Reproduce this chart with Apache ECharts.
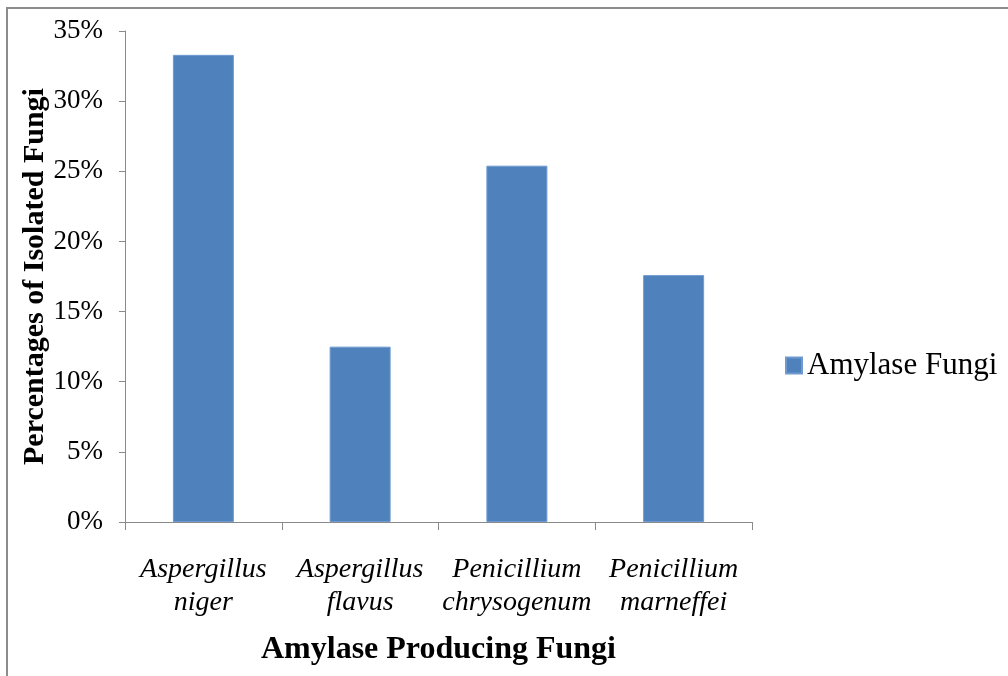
<!DOCTYPE html>
<html>
<head>
<meta charset="utf-8">
<script src="https://cdn.jsdelivr.net/npm/echarts@6/dist/echarts.min.js"></script>
<style>
  html, body { margin: 0; padding: 0; background: #fff; }
  #chart { width: 1008px; height: 676px; }
</style>
</head>
<body>
<div id="chart"></div>
<script>
// Fungal species isolated for amylase production
const categories = [
  'Aspergillus\nniger',
  'Aspergillus\nflavus',
  'Penicillium\nchrysogenum',
  'Penicillium\nmarneffei'
];
// Share of isolates, in percent
const amylaseFungi = [33.3, 12.5, 25.4, 17.6];
const seriesName = 'Amylase Fungi';
const yTicks = { min: 0, max: 35, interval: 5 };

const serif = '"Liberation Serif", "Times New Roman", serif';
const chart = echarts.init(document.getElementById('chart'));

chart.setOption({
  backgroundColor: '#ffffff',
  animation: false,
  textStyle: { fontFamily: serif, color: '#000' },
  graphic: [{
    type: 'rect',
    shape: { x: 7, y: 8, width: 1100, height: 800 },
    style: { fill: 'none', stroke: '#8c8c8c', lineWidth: 2 },
    silent: true
  }],
  grid: {
    left: 125, right: 256, top: 31, bottom: 154,
    containLabel: false,
    outerBoundsMode: 'none'
  },
  legend: {
    data: [seriesName],
    left: 785,
    top: 350,
    padding: 0,
    itemWidth: 16,
    itemHeight: 16,
    itemGap: 8,
    icon: 'rect',
    textStyle: { fontFamily: serif, fontSize: 31, color: '#000' }
  },
  xAxis: {
    type: 'category',
    data: categories,
    name: 'Amylase Producing Fungi',
    nameLocation: 'middle',
    nameGap: 112,
    nameMoveOverlap: false,
    nameTextStyle: { fontFamily: serif, fontSize: 32, fontWeight: 'bold', color: '#000' },
    axisLine: { lineStyle: { color: '#8a8a8a', width: 1 } },
    axisTick: { show: true, alignWithLabel: false, length: 8, lineStyle: { color: '#8a8a8a' } },
    axisLabel: {
      interval: 0,
      margin: 31,
      fontFamily: serif,
      fontStyle: 'italic',
      fontSize: 28,
      lineHeight: 33,
      color: '#000'
    },
    splitLine: { show: false }
  },
  yAxis: {
    type: 'value',
    min: yTicks.min,
    max: yTicks.max,
    interval: yTicks.interval,
    name: 'Percentages of Isolated Fungi',
    nameLocation: 'middle',
    nameGap: 75,
    nameMoveOverlap: false,
    nameRotate: 90,
    nameTextStyle: { fontFamily: serif, fontSize: 30, fontWeight: 'bold', color: '#000' },
    axisLine: { show: true, lineStyle: { color: '#8a8a8a', width: 1 } },
    axisTick: { show: true, length: 6, lineStyle: { color: '#8a8a8a' } },
    axisLabel: {
      margin: 22,
      fontFamily: serif,
      fontSize: 27,
      color: '#000',
      formatter: v => v + '%'
    },
    splitLine: { show: false }
  },
  series: [{
    name: seriesName,
    type: 'bar',
    data: amylaseFungi,
    barWidth: 61,
    itemStyle: { color: '#4f81bd', borderColor: '#6f9ad0', borderWidth: 1 }
  }]
});
</script>
</body>
</html>
